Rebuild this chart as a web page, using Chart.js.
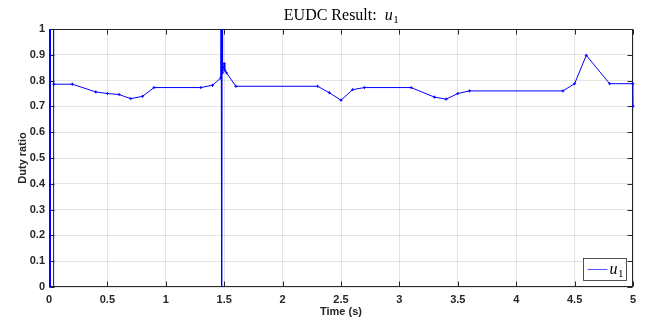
<!DOCTYPE html>
<html>
<head>
<meta charset="utf-8">
<script src="https://cdn.jsdelivr.net/npm/chart.js@4.4.1/dist/chart.umd.min.js"></script>
<style>
html, body { margin: 0; padding: 0; background: #fff; }
</style>
</head>
<body>
<canvas id="dutyChart" width="648" height="320"></canvas>
<script>
// data (time in s, duty ratio u1)
var timeS  = [0, 0.003, 0.006, 0.009, 0.012, 0.036, 0.038, 0.041, 0.2, 0.4, 0.5, 0.6, 0.7, 0.8, 0.9, 1.3, 1.4, 1.47,
              1.474, 1.478, 1.482, 1.486, 1.5, 1.505, 1.52, 1.6, 2.3, 2.4, 2.5, 2.6, 2.7, 3.1, 3.3, 3.4, 3.5,
              3.6, 4.4, 4.5, 4.6, 4.8, 4.999, 5.0];
var dutyU1 = [-0.2, 1.3, -0.2, 1.3, -0.2, -0.2, 1.3, 0.786, 0.786, 0.756, 0.75, 0.746, 0.73, 0.739, 0.773, 0.773, 0.782, 0.81,
              1.3, -0.2, 1.3, 0.83, 0.866, 0.84, 0.83, 0.778, 0.778, 0.753, 0.724, 0.765, 0.773, 0.773, 0.736, 0.728, 0.75,
              0.76, 0.76, 0.788, 0.898, 0.788, 0.788, 0.70];
var xTickVals = [0, 0.5, 1, 1.5, 2, 2.5, 3, 3.5, 4, 4.5, 5];
var yTickVals = [0, 0.1, 0.2, 0.3, 0.4, 0.5, 0.6, 0.7, 0.8, 0.9, 1];

var points = timeS.map(function (t, i) { return { x: t, y: dutyU1[i] }; });

var tickFont = { family: '"Liberation Sans", Arial, sans-serif', size: 11, weight: 'bold' };
var labelFont = { family: '"Liberation Sans", Arial, sans-serif', size: 11, weight: 'bold' };
var gridCol = 'rgba(38,38,38,0.12)';

// axes box + inward tick marks (drawn under the line)
var boxPlugin = {
    id: 'axesBox',
    beforeDatasetsDraw: function (chart) {
        var c = chart.ctx, a = chart.chartArea;
        var xs = chart.scales.x, ys = chart.scales.y;
        var L = Math.round(a.left) + 0.5, R = Math.round(a.right) - 0.5;
        var T = Math.round(a.top) + 0.5, B = Math.round(a.bottom) - 0.5;
        c.save();
        c.strokeStyle = '#262626';
        c.lineWidth = 1;
        c.strokeRect(L, T, R - L, B - T);
        c.beginPath();
        xTickVals.forEach(function (v) {
            var px = Math.round(xs.getPixelForValue(v)) + 0.5;
            c.moveTo(px, B); c.lineTo(px, B - 5);
            c.moveTo(px, T); c.lineTo(px, T + 5);
        });
        yTickVals.forEach(function (v) {
            var py = Math.round(ys.getPixelForValue(v)) + 0.5;
            c.moveTo(L, py); c.lineTo(L + 5, py);
            c.moveTo(R, py); c.lineTo(R - 5, py);
        });
        c.stroke();
        c.restore();
    }
};

// LaTeX-like title and legend box
var textPlugin = {
    id: 'titleLegend',
    afterDraw: function (chart) {
        var c = chart.ctx, a = chart.chartArea;
        c.save();
        // title
        var base = 'EUDC Result:  ';
        c.font = '16px "Liberation Serif", serif';
        var w1 = c.measureText(base).width;
        c.font = 'italic 16px "Liberation Serif", serif';
        var w2 = c.measureText('u').width;
        c.font = '11px "Liberation Serif", serif';
        var w3 = c.measureText('1').width;
        var x0 = (a.left + a.right) / 2 - (w1 + w2 + w3) / 2;
        c.fillStyle = '#000';
        c.textBaseline = 'alphabetic';
        c.font = '16px "Liberation Serif", serif';
        c.fillText(base, x0, 20);
        c.font = 'italic 16px "Liberation Serif", serif';
        c.fillText('u', x0 + w1, 20);
        c.font = '11px "Liberation Serif", serif';
        c.fillText('1', x0 + w1 + w2 + 0.5, 23);

        // legend
        var bx = Math.round(a.right) - 49.5, by = Math.round(a.bottom) - 28.5;
        c.fillStyle = '#fff';
        c.fillRect(bx, by, 43, 22);
        c.strokeStyle = '#262626';
        c.lineWidth = 0.8;
        c.strokeRect(bx, by, 43, 22);
        c.strokeStyle = '#5555ff';
        c.lineWidth = 1;
        c.beginPath();
        c.moveTo(bx + 4, by + 11);
        c.lineTo(bx + 24, by + 11);
        c.stroke();
        c.fillStyle = '#000';
        c.font = 'italic 16px "Liberation Serif", serif';
        c.fillText('u', bx + 26, by + 15);
        var wu = c.measureText('u').width;
        c.font = '11px "Liberation Serif", serif';
        c.fillText('1', bx + 26 + wu + 0.5, by + 18);
        c.restore();
    }
};

var ctx = document.getElementById('dutyChart').getContext('2d');
var dutyChart = new Chart(ctx, {
    type: 'scatter',
    data: {
        datasets: [{
            label: 'u1',
            data: points,
            showLine: true,
            borderColor: '#0000ff',
            backgroundColor: '#0000ff',
            borderWidth: 1,
            pointStyle: 'cross',
            pointRadius: 1.5,
            pointBorderWidth: 1,
            tension: 0,
            clip: { left: 2, right: 2, top: 0, bottom: 0 }
        }]
    },
    options: {
        responsive: false,
        animation: false,
        layout: { padding: { top: 29, right: 15, bottom: 0, left: 0 } },
        plugins: {
            legend: { display: false },
            title: { display: false },
            tooltip: { enabled: false }
        },
        scales: {
            x: {
                type: 'linear',
                min: 0,
                max: 5,
                afterBuildTicks: function (s) { s.ticks = xTickVals.map(function (v) { return { value: v }; }); },
                afterFit: function (s) { s.height = 33; },
                grid: { color: gridCol, drawTicks: false },
                border: { display: false },
                ticks: {
                    color: '#262626', font: tickFont, padding: 6, maxRotation: 0,
                    callback: function (v) { return String(v); }
                },
                title: { display: true, text: 'Time (s)', color: '#262626', font: labelFont, padding: { top: 0, bottom: 1 } }
            },
            y: {
                min: 0,
                max: 1,
                afterBuildTicks: function (s) { s.ticks = yTickVals.map(function (v) { return { value: v }; }); },
                afterFit: function (s) { s.width = 49; },
                grid: { color: gridCol, drawTicks: false },
                border: { display: false },
                ticks: {
                    color: '#262626', font: tickFont, padding: 4,
                    callback: function (v) { return String(v); }
                },
                title: { display: true, text: 'Duty ratio', color: '#262626', font: labelFont, padding: { top: 16, bottom: 0 } }
            }
        }
    },
    plugins: [boxPlugin, textPlugin]
});
</script>
</body>
</html>
